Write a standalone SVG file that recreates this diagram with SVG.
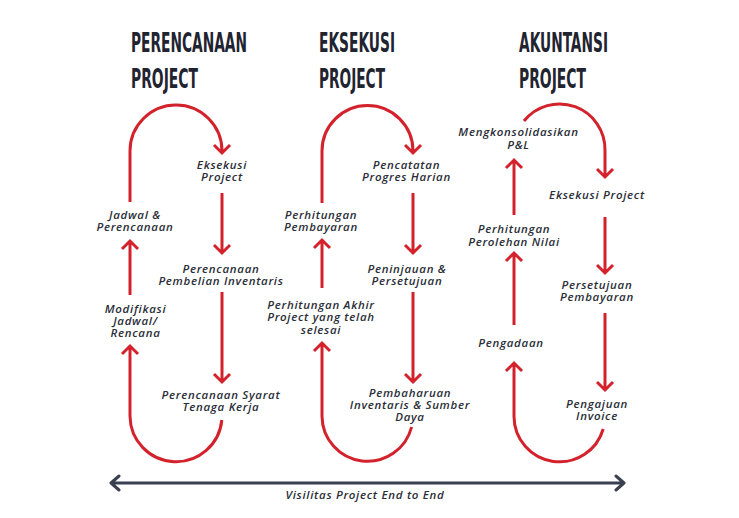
<svg xmlns="http://www.w3.org/2000/svg" width="739" height="518" viewBox="0 0 739 518">
<style>
.h{font-family:"DejaVu Sans Condensed","DejaVu Sans",sans-serif;font-stretch:condensed;font-weight:bold;font-size:26px;fill:#1f2430}
.t{font-family:"Open Sans","Noto Sans",sans-serif;font-style:italic;font-weight:600;font-size:11.5px;letter-spacing:0.7px;fill:#2a2e38;text-anchor:middle}
.r{fill:none;stroke:#d3222c;stroke-width:3}
.d{fill:none;stroke:#3b4050;stroke-width:3;stroke-linecap:round;stroke-linejoin:round}
</style>
<rect width="739" height="518" fill="#ffffff"/>
<g id="headings">
<text class="h" x="131" y="52" textLength="116" lengthAdjust="spacingAndGlyphs">PERENCANAAN</text>
<text class="h" x="131" y="88" textLength="67" lengthAdjust="spacingAndGlyphs">PROJECT</text>
<text class="h" x="319" y="52" textLength="76" lengthAdjust="spacingAndGlyphs">EKSEKUSI</text>
<text class="h" x="319" y="88" textLength="66" lengthAdjust="spacingAndGlyphs">PROJECT</text>
<text class="h" x="519" y="52" textLength="89" lengthAdjust="spacingAndGlyphs">AKUNTANSI</text>
<text class="h" x="519" y="88" textLength="67" lengthAdjust="spacingAndGlyphs">PROJECT</text>
</g>
<g id="connectors">
<!-- column 1 -->
<path class="r" d="M130,202 V151 A46,46 0 0 1 222,151 V153 M214,145 L222,153 L230,145"/>
<path class="r" d="M222,193 V253 M214,245 L222,253 L230,245"/>
<path class="r" d="M222,292 V382 M214,374 L222,382 L230,374"/>
<path class="r" d="M221.8,420 A46,46 0 0 1 130,416 V346 M122,354 L130,346 L138,354"/>
<path class="r" d="M130,295 V241 M122,249 L130,241 L138,249"/>
<!-- column 2 -->
<path class="r" d="M322,203 V151 A45.5,45.5 0 0 1 413,151 V153 M405,145 L413,153 L421,145"/>
<path class="r" d="M413,193 V253 M405,245 L413,253 L421,245"/>
<path class="r" d="M413,292 V382 M405,374 L413,382 L421,374"/>
<path class="r" d="M411.6,427 A45.5,45.5 0 0 1 322,416 V343 M314,351 L322,343 L330,351"/>
<path class="r" d="M322,288 V240 M314,248 L322,240 L330,248"/>
<!-- column 3 -->
<path class="r" d="M524,121 A45.5,45.5 0 0 1 605,150.5 V177 M597,169 L605,177 L613,169"/>
<path class="r" d="M514,215 V160 M506,168 L514,160 L522,168"/>
<path class="r" d="M605,217 V273 M597,265 L605,273 L613,265"/>
<path class="r" d="M514,325 V253 M506,261 L514,253 L522,261"/>
<path class="r" d="M605,313 V390 M597,382 L605,390 L613,382"/>
<path class="r" d="M603.2,429 A45.5,45.5 0 0 1 514,416.5 V363 M506,371 L514,363 L522,371"/>
<!-- timeline -->
<path class="d" d="M111,483 H624 M119,476 L111,483 L119,490 M616,476 L624,483 L616,490"/>
</g>
<g id="n-eksekusi-project-1"><text class="t" x="222" y="169">Eksekusi</text><text class="t" x="222" y="181">Project</text></g>
<g id="n-pembelian"><text class="t" x="221" y="273">Perencanaan</text><text class="t" x="221" y="285">Pembelian Inventaris</text></g>
<g id="n-tenaga"><text class="t" x="221" y="399">Perencanaan Syarat</text><text class="t" x="221" y="411">Tenaga Kerja</text></g>
<g id="n-modifikasi"><text class="t" x="135.5" y="313">Modifikasi</text><text class="t" x="135.5" y="325">Jadwal/</text><text class="t" x="135.5" y="337">Rencana</text></g>
<g id="n-jadwal"><text class="t" x="135" y="219">Jadwal &amp;</text><text class="t" x="135" y="231">Perencanaan</text></g>
<g id="n-pencatatan"><text class="t" x="406.5" y="169">Pencatatan</text><text class="t" x="406.5" y="181">Progres Harian</text></g>
<g id="n-peninjauan"><text class="t" x="407" y="273">Peninjauan &amp;</text><text class="t" x="407" y="285">Persetujuan</text></g>
<g id="n-pembaharuan"><text class="t" x="410" y="397">Pembaharuan</text><text class="t" x="410" y="409">Inventaris &amp; Sumber</text><text class="t" x="410" y="421">Daya</text></g>
<g id="n-akhir"><text class="t" x="321" y="309">Perhitungan Akhir</text><text class="t" x="321" y="321">Project yang telah</text><text class="t" x="321" y="334">selesai</text></g>
<g id="n-pembayaran-1"><text class="t" x="321" y="219">Perhitungan</text><text class="t" x="321" y="231">Pembayaran</text></g>
<g id="n-konsolidasi"><text class="t" x="518.5" y="136">Mengkonsolidasikan</text><text class="t" x="518.5" y="149">P&amp;L</text></g>
<g id="n-eksekusi-project-3"><text class="t" x="597" y="199">Eksekusi Project</text></g>
<g id="n-perolehan"><text class="t" x="514" y="233">Perhitungan</text><text class="t" x="514" y="246">Perolehan Nilai</text></g>
<g id="n-persetujuan"><text class="t" x="597" y="289">Persetujuan</text><text class="t" x="597" y="301">Pembayaran</text></g>
<g id="n-pengadaan"><text class="t" x="511" y="347">Pengadaan</text></g>
<g id="n-invoice"><text class="t" x="597" y="408">Pengajuan</text><text class="t" x="597" y="420">Invoice</text></g>
<g id="n-visibilitas"><text class="t" x="365" y="499">Visilitas Project End to End</text></g>
</svg>
